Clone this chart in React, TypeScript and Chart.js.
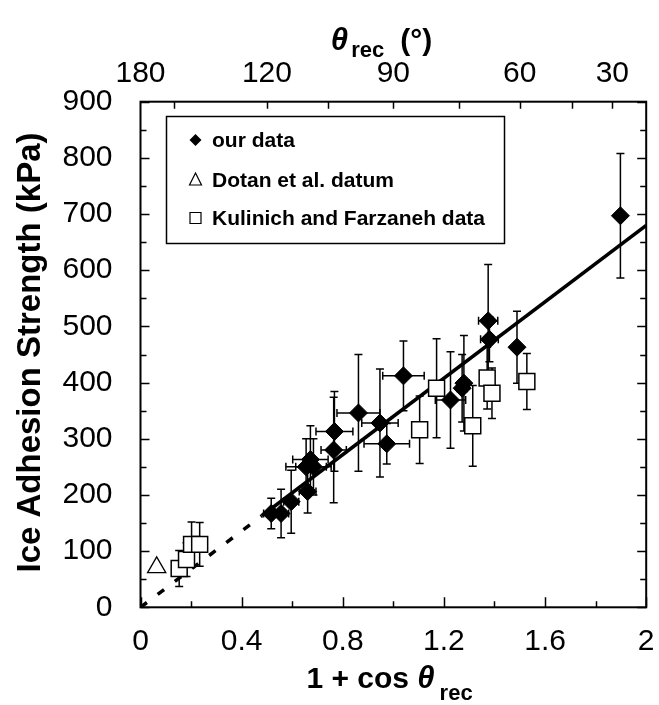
import React, { useEffect, useRef } from 'react';
import { Chart, registerables } from 'chart.js';

Chart.register(...registerables);

const FONT = '"Liberation Sans", Arial, Helvetica, sans-serif';

// ---- data ----
const ourX = [1.898, 1.375, 1.380, 1.489, 1.040, 1.279, 1.272, 1.226, 0.862, 0.947, 0.974, 0.767, 0.764, 0.672, 0.684, 0.655, 0.661, 0.596, 0.556, 0.517];
const ourY = [697, 510, 477, 463, 412, 399, 390, 369, 346, 328, 291, 313, 280, 263, 250, 250, 206, 188, 167, 167];
const ourYErr = [111, 100, 40, 64, 62, 85, 60, 86, 104, 96, 36, 71, 94, 60, 50, 50, 38, 56, 43, 27];
const ourXErr = [0, 0.038, 0.035, 0, 0.082, 0.02, 0.02, 0.06, 0.085, 0.072, 0.09, 0.073, 0.05, 0.07, 0.07, 0.08, 0.033, 0.03, 0.03, 0.03];

const dotanX = [0.064];
const dotanY = [71];

const kulX = [0.153, 0.182, 0.202, 0.234, 1.104, 1.171, 1.314, 1.371, 1.390, 1.528];
const kulY = [69, 85, 112, 112, 316, 390, 323, 408, 381, 402];
const kulYErr = [32, 30, 40, 39, 60, 88, 72, 55, 45, 50];
const kulXErr = [0, 0, 0, 0, 0.015, 0, 0, 0, 0, 0];

const fitX = [0, 0.48, 2];
const fitY = [0, 163, 680];

// ---- axes ----
const bottomTicks = [0, 0.4, 0.8, 1.2, 1.6, 2];
const bottomMinorTicks = [0.2, 0.6, 1.0, 1.4, 1.8];
const leftTicks = [0, 100, 200, 300, 400, 500, 600, 700, 800, 900];
const leftMinorTicks = [50, 150, 250, 350, 450, 550, 650, 750, 850];
const topLabelDeg = [180, 120, 90, 60, 30];
const topTickDeg = [150, 120, 105, 90, 75, 60, 45, 30];

const legendLabels = ['our data', 'Dotan et al. datum', 'Kulinich and Farzaneh data'];
const yTitle = 'Ice Adhesion Strength (kPa)';

const degToX = (d: number) => 1 + Math.cos((d * Math.PI) / 180);

const zip = (xs: number[], ys: number[]) => xs.map((x, i) => ({ x, y: ys[i] }));

const CANVAS_W = 659;
const CANVAS_H = 705;

const errorBarsPlugin = {
  id: 'errorBars',
  beforeDatasetsDraw(chart: any) {
    const ctx = chart.ctx;
    const xs = chart.scales.x;
    const ys = chart.scales.y;
    ctx.save();
    ctx.strokeStyle = '#000';
    ctx.lineWidth = 1.5;
    const cap = 4;
    chart.data.datasets.forEach((ds: any) => {
      if (!ds.yErr) return;
      ds.data.forEach((p: any, i: number) => {
        const px = xs.getPixelForValue(p.x);
        const py = ys.getPixelForValue(p.y);
        const ye = ds.yErr[i] || 0;
        const xe = ds.xErr ? ds.xErr[i] || 0 : 0;
        ctx.beginPath();
        if (ye) {
          const y1 = ys.getPixelForValue(p.y + ye);
          const y2 = ys.getPixelForValue(p.y - ye);
          ctx.moveTo(px, y1); ctx.lineTo(px, y2);
          ctx.moveTo(px - cap, y1); ctx.lineTo(px + cap, y1);
          ctx.moveTo(px - cap, y2); ctx.lineTo(px + cap, y2);
        }
        if (xe) {
          const x1 = xs.getPixelForValue(p.x - xe);
          const x2 = xs.getPixelForValue(p.x + xe);
          ctx.moveTo(x1, py); ctx.lineTo(x2, py);
          ctx.moveTo(x1, py - cap); ctx.lineTo(x1, py + cap);
          ctx.moveTo(x2, py - cap); ctx.lineTo(x2, py + cap);
        }
        ctx.stroke();
      });
    });
    ctx.restore();
  },
};

const framePlugin = {
  id: 'frame',
  afterDraw(chart: any) {
    const ctx = chart.ctx;
    const { left, right, top, bottom } = chart.chartArea;
    const xs = chart.scales.x;
    const ys = chart.scales.y;
    ctx.save();
    ctx.strokeStyle = '#000';
    ctx.lineWidth = 2;
    ctx.strokeRect(left, top, right - left, bottom - top);
    ctx.lineWidth = 1.5;
    ctx.beginPath();
    const yt = (v: number, len: number) => {
      const y = Math.round(ys.getPixelForValue(v)) + 0.5;
      ctx.moveTo(left, y); ctx.lineTo(left + len, y);
      ctx.moveTo(right, y); ctx.lineTo(right - len, y);
    };
    leftTicks.forEach((v) => yt(v, 9));
    leftMinorTicks.forEach((v) => yt(v, 6));
    const bt = (v: number, len: number) => {
      const x = Math.round(xs.getPixelForValue(v)) + 0.5;
      ctx.moveTo(x, bottom); ctx.lineTo(x, bottom - len);
    };
    bottomTicks.forEach((v) => bt(v, 10));
    bottomMinorTicks.forEach((v) => bt(v, 6));
    topTickDeg.forEach((d) => {
      const x = Math.round(xs.getPixelForValue(degToX(d))) + 0.5;
      ctx.moveTo(x, top); ctx.lineTo(x, top + 7);
    });
    ctx.stroke();
    ctx.restore();
  },
};

function drawRich(ctx: any, cx: number, baseline: number, parts: any[]) {
  let total = 0;
  parts.forEach((p) => {
    ctx.font = p.font;
    total += (p.gap || 0) + ctx.measureText(p.text).width;
  });
  let x = cx - total / 2;
  ctx.textAlign = 'left';
  ctx.textBaseline = 'alphabetic';
  parts.forEach((p) => {
    ctx.font = p.font;
    x += p.gap || 0;
    ctx.fillText(p.text, x, baseline + (p.dy || 0));
    x += ctx.measureText(p.text).width;
  });
}

const titlesPlugin = {
  id: 'titles',
  afterDraw(chart: any) {
    const ctx = chart.ctx;
    const { top, bottom } = chart.chartArea;
    ctx.save();
    ctx.fillStyle = '#000';
    ctx.save();
    ctx.translate(30.5, (top + bottom) / 2 - 2);
    ctx.rotate(-Math.PI / 2);
    ctx.font = `bold 33px ${FONT}`;
    ctx.textAlign = 'center';
    ctx.textBaseline = 'middle';
    ctx.fillText(yTitle, 0, 0);
    ctx.restore();

    drawRich(ctx, 389.5, 688, [
      { text: '1 + cos ', font: `bold 30px ${FONT}` },
      { text: 'θ', font: `italic bold 31px ${FONT}` },
      { text: 'rec', font: `bold 22px ${FONT}`, gap: 5, dy: 12 },
    ]);
    drawRich(ctx, 381.5, 50, [
      { text: 'θ', font: `italic bold 31px ${FONT}` },
      { text: 'rec', font: `bold 22px ${FONT}`, gap: 3, dy: 7 },
      { text: '(°)', font: `bold 30px ${FONT}`, gap: 16 },
    ]);
    ctx.restore();
  },
};

const legendPlugin = {
  id: 'boxLegend',
  afterDraw(chart: any) {
    const ctx = chart.ctx;
    ctx.save();
    ctx.strokeStyle = '#000';
    ctx.lineWidth = 1.5;
    ctx.strokeRect(166.5, 116.5, 338, 127);
    const rows = [140, 180, 218];
    const sx = 195.5;
    ctx.font = `bold 21px ${FONT}`;
    ctx.textAlign = 'left';
    ctx.textBaseline = 'middle';
    ctx.fillStyle = '#000';
    legendLabels.forEach((label, i) => {
      const y = rows[i];
      ctx.beginPath();
      if (i === 0) {
        ctx.moveTo(sx - 6, y); ctx.lineTo(sx, y - 6); ctx.lineTo(sx + 6, y); ctx.lineTo(sx, y + 6);
        ctx.closePath();
        ctx.fillStyle = '#000';
        ctx.fill();
      } else if (i === 1) {
        ctx.moveTo(sx, y - 7); ctx.lineTo(sx + 6, y + 5); ctx.lineTo(sx - 6, y + 5);
        ctx.closePath();
        ctx.lineWidth = 1.2;
        ctx.fillStyle = '#fff';
        ctx.fill();
        ctx.stroke();
      } else {
        ctx.rect(sx - 5.5, y - 5.5, 11, 11);
        ctx.lineWidth = 1.2;
        ctx.fillStyle = '#fff';
        ctx.fill();
        ctx.stroke();
      }
      ctx.fillStyle = '#000';
      ctx.fillText(label, 212, y + 1);
    });
    ctx.restore();
  },
};

export default function App() {
  const ref = useRef<HTMLCanvasElement | null>(null);
  useEffect(() => {
    document.body.style.margin = '0';
    if (!ref.current) return;
    const tickFont = { family: FONT, size: 30, weight: 'normal' as const };
    const chart = new Chart(ref.current, {
      type: 'scatter',
      data: {
        datasets: [
          {
            type: 'line',
            label: 'fit',
            data: zip(fitX, fitY),
            borderColor: '#000',
            borderWidth: 3.5,
            pointRadius: 0,
            fill: false,
            showLine: true,
            borderCapStyle: 'butt',
            segment: {
              borderDash: (c: any) => (c.p0DataIndex === 0 ? [8, 13.5] : undefined),
            },
            order: 5,
          } as any,
          {
            label: legendLabels[0],
            data: zip(ourX, ourY),
            pointStyle: 'rectRot',
            radius: 9,
            backgroundColor: '#000',
            borderColor: '#000',
            borderWidth: 1,
            yErr: ourYErr,
            xErr: ourXErr,
            order: 2,
          } as any,
          {
            label: legendLabels[1],
            data: zip(dotanX, dotanY),
            pointStyle: 'triangle',
            radius: 10.5,
            backgroundColor: '#fff',
            borderColor: '#000',
            borderWidth: 1.3,
            order: 1,
          } as any,
          {
            label: legendLabels[2],
            data: zip(kulX, kulY),
            pointStyle: 'rect',
            radius: 11.3,
            backgroundColor: '#fff',
            borderColor: '#000',
            borderWidth: 1.5,
            yErr: kulYErr,
            xErr: kulXErr,
            order: 1,
          } as any,
        ],
      },
      options: {
        responsive: false,
        animation: false,
        events: [],
        layout: { padding: { left: 0, right: 11, top: 0, bottom: 0 } },
        plugins: { legend: { display: false }, tooltip: { enabled: false } },
        scales: {
          x: {
            type: 'linear',
            position: 'bottom',
            min: 0,
            max: 2,
            grid: { display: false, drawTicks: false },
            border: { display: false },
            afterBuildTicks: (s: any) => { s.ticks = bottomTicks.map((v) => ({ value: v })); },
            afterFit: (s: any) => { s.height = CANVAS_H - 607.3; s.paddingLeft = 0; s.paddingRight = 0; },
            ticks: {
              autoSkip: false,
              maxRotation: 0,
              padding: 16,
              color: '#000',
              font: tickFont,
              callback: (v: any) => String(v),
            },
          },
          xTop: {
            type: 'linear',
            position: 'top',
            min: 0,
            max: 2,
            grid: { display: false, drawTicks: false },
            border: { display: false },
            afterBuildTicks: (s: any) => { s.ticks = topLabelDeg.map((d) => ({ value: degToX(d) })); },
            afterFit: (s: any) => { s.height = 101.7; s.paddingLeft = 0; s.paddingRight = 0; },
            ticks: {
              autoSkip: false,
              maxRotation: 0,
              padding: 10,
              color: '#000',
              font: tickFont,
              callback: (_v: any, i: number) => String(topLabelDeg[i]),
            },
          },
          y: {
            type: 'linear',
            position: 'left',
            min: 0,
            max: 900,
            grid: { display: false, drawTicks: false },
            border: { display: false },
            afterBuildTicks: (s: any) => { s.ticks = leftTicks.map((v) => ({ value: v })); },
            afterFit: (s: any) => { s.width = 140.5; s.paddingTop = 0; s.paddingBottom = 0; },
            ticks: {
              autoSkip: false,
              padding: 28,
              color: '#000',
              font: tickFont,
              callback: (v: any) => String(v),
            },
          },
        },
      } as any,
      plugins: [errorBarsPlugin, framePlugin, titlesPlugin, legendPlugin],
    });
    return () => chart.destroy();
  }, []);

  return (
    <div style={{ width: CANVAS_W, height: CANVAS_H }}>
      <canvas
        ref={ref}
        width={CANVAS_W}
        height={CANVAS_H}
        style={{ display: 'block', width: CANVAS_W, height: CANVAS_H }}
      />
    </div>
  );
}
